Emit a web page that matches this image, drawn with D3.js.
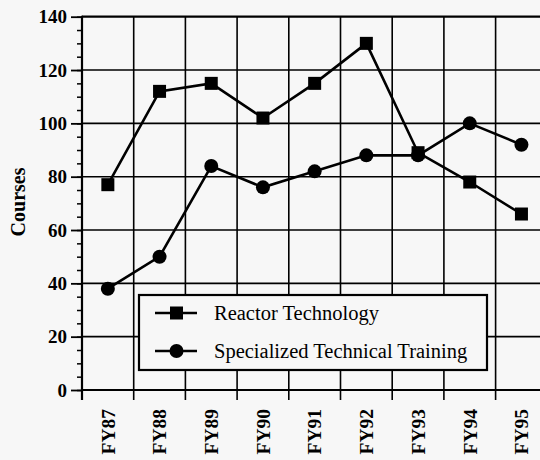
<!DOCTYPE html>
<html>
<head>
<meta charset="utf-8">
<script src="https://cdn.jsdelivr.net/npm/d3@7/dist/d3.min.js"></script>
<style>
  body { margin: 0; background: #f7f7f7; }
  svg { display: block; }
  svg text { font-family: "Liberation Serif", "Times New Roman", serif !important; }
</style>
</head>
<body>
<div id="chart"></div>
<script>
// data
const years = ['FY87', 'FY88', 'FY89', 'FY90', 'FY91', 'FY92', 'FY93', 'FY94', 'FY95'];
const reactorTech = [77, 112, 115, 102, 115, 130, 89, 78, 66];
const specialized = [38, 50, 84, 76, 82, 88, 88, 100, 92];
const yTicks = [0, 20, 40, 60, 80, 100, 120, 140];
const seriesNames = ['Reactor Technology', 'Specialized Technical Training'];

const width = 540;
const height = 460;

const svg = d3.select('#chart')
    .append('svg')
    .attr('width', width)
    .attr('height', height);

svg.append('rect')
    .attr('width', width)
    .attr('height', height)
    .attr('fill', '#f7f7f7');

const xScale = d3.scaleBand()
    .domain(years)
    .range([82, 82 + 9 * 51.7]);

const yScale = d3.scaleLinear()
    .domain([0, 140])
    .range([390, 16.7]);

// horizontal grid
svg.append('g')
    .selectAll('line')
    .data(yTicks)
    .enter()
    .append('line')
    .attr('x1', 82)
    .attr('x2', width)
    .attr('y1', d => yScale(d))
    .attr('y2', d => yScale(d))
    .attr('stroke', '#000')
    .attr('stroke-width', d => (d == 0 || d == 140) ? 2.2 : 1.6);

// vertical grid at band boundaries
svg.append('g')
    .selectAll('line')
    .data(years.slice(1))
    .enter()
    .append('line')
    .attr('x1', d => xScale(d))
    .attr('x2', d => xScale(d))
    .attr('y1', yScale(140))
    .attr('y2', yScale(0) + 10)
    .attr('stroke', '#000')
    .attr('stroke-width', 1.6);

// y axis with minor ticks
const yAxis = svg.append('g')
    .attr('transform', 'translate(82,0)')
    .call(d3.axisLeft(yScale).tickValues(d3.range(0, 141, 5)).tickSize(5).tickFormat(''));
yAxis.select('.domain').remove();
yAxis.selectAll('line').attr('stroke', '#000').attr('stroke-width', 1.5);

const yAxisMajor = svg.append('g')
    .attr('transform', 'translate(82,0)')
    .call(d3.axisLeft(yScale).tickValues(yTicks).tickSize(11).tickPadding(4));
yAxisMajor.select('.domain').remove();
yAxisMajor.selectAll('line').attr('stroke', '#000').attr('stroke-width', 1.8);
yAxisMajor.selectAll('text')
    .attr('font-size', 19)
    .attr('font-weight', 'bold')
    .attr('fill', '#000');

svg.append('line')
    .attr('x1', 82).attr('x2', 82)
    .attr('y1', yScale(140) - 1).attr('y2', yScale(0) + 10)
    .attr('stroke', '#000')
    .attr('stroke-width', 2.2);

// x labels
svg.append('g')
    .selectAll('text')
    .data(years)
    .enter()
    .append('text')
    .attr('transform', d => `translate(${xScale(d) + xScale.bandwidth() / 2}, 409) rotate(-90)`)
    .attr('text-anchor', 'end')
    .attr('dy', '0.35em')
    .attr('font-size', 19.5)
    .attr('font-weight', 'bold')
    .text(d => d);

svg.append('text')
    .attr('transform', 'translate(18, 202) rotate(-90)')
    .attr('text-anchor', 'middle')
    .attr('dy', '0.35em')
    .attr('font-size', 20)
    .attr('font-weight', 'bold')
    .text('Courses');

const cx = (d, i) => xScale(years[i]) + xScale.bandwidth() / 2;
const line = d3.line()
    .x((d, i) => cx(d, i))
    .y(d => yScale(d));

// reactor technology
svg.append('path')
    .datum(reactorTech)
    .attr('d', line)
    .attr('fill', 'none')
    .attr('stroke', '#000')
    .attr('stroke-width', 2.6);

svg.append('g')
    .selectAll('rect')
    .data(reactorTech)
    .enter()
    .append('rect')
    .attr('x', (d, i) => cx(d, i) - 6.5)
    .attr('y', d => yScale(d) - 6.5)
    .attr('width', 13)
    .attr('height', 13)
    .attr('fill', '#000');

// specialized technical training
svg.append('path')
    .datum(specialized)
    .attr('d', line)
    .attr('fill', 'none')
    .attr('stroke', '#000')
    .attr('stroke-width', 2.6);

svg.append('g')
    .selectAll('circle')
    .data(specialized)
    .enter()
    .append('circle')
    .attr('cx', (d, i) => cx(d, i))
    .attr('cy', d => yScale(d))
    .attr('r', 7)
    .attr('fill', '#000');

// legend
const legend = svg.append('g');
legend.append('rect')
    .attr('x', 139)
    .attr('y', 295)
    .attr('width', 348)
    .attr('height', 75)
    .attr('fill', '#f7f7f7')
    .attr('stroke', '#000')
    .attr('stroke-width', 2.2);

const legendRows = [313, 351];
seriesNames.forEach((name, i) => {
    const g = legend.append('g').attr('transform', `translate(0, ${legendRows[i]})`);
    g.append('line')
        .attr('x1', 155).attr('x2', 197)
        .attr('stroke', '#000')
        .attr('stroke-width', 2.4);
    if (i == 0) {
        g.append('rect')
            .attr('x', 170).attr('y', -6.5)
            .attr('width', 13).attr('height', 13)
            .attr('fill', '#000');
    } else {
        g.append('circle')
            .attr('cx', 176.5).attr('r', 7)
            .attr('fill', '#000');
    }
    g.append('text')
        .attr('x', 214)
        .attr('dy', '0.35em')
        .attr('font-size', 20.5)
        .text(name);
});
</script>
</body>
</html>
